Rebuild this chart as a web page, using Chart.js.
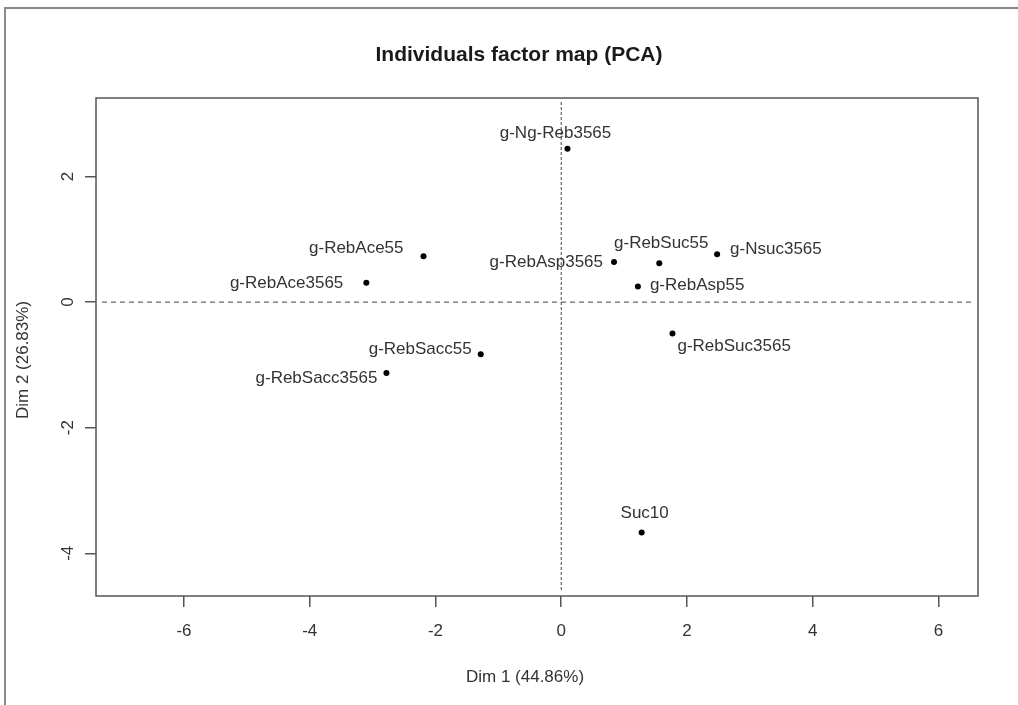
<!DOCTYPE html>
<html>
<head>
<meta charset="utf-8">
<title>Individuals factor map (PCA)</title>
<script src="https://cdn.jsdelivr.net/npm/chart.js@4"></script>
<style>
  html, body { margin: 0; padding: 0; background: #fff; }
  #wrap { width: 1018px; height: 705px; }
</style>
</head>
<body>
<div id="wrap"><canvas id="pca" width="1018" height="705"></canvas></div>
<script>
// Individuals and their coordinates on the first two principal dimensions
const individuals = ['g-Ng-Reb3565', 'g-RebAce55', 'g-RebAce3565', 'g-RebSacc55', 'g-RebSacc3565',
                     'g-RebAsp3565', 'g-RebSuc55', 'g-Nsuc3565', 'g-RebAsp55', 'g-RebSuc3565', 'Suc10'];
const dim1 = [0.10, -2.19, -3.10, -1.28, -2.78, 0.84, 1.56, 2.48, 1.22, 1.77, 1.28];
const dim2 = [2.44, 0.73, 0.31, -0.83, -1.13, 0.64, 0.62, 0.76, 0.25, -0.50, -3.67];

const xTicks = [-6, -4, -2, 0, 2, 4, 6];
const yTicks = [-4, -2, 0, 2];

const titleText = 'Individuals factor map (PCA)';
const xTitle = 'Dim 1 (44.86%)';
const yTitle = 'Dim 2 (26.83%)';

const FONT = '"Liberation Sans", Arial, Helvetica, sans-serif';

// Where each name sits relative to its point (side, gap in px, vertical shift in px)
const labelPlacement = [
  { side: 'center', dx: -12, dy: -16 },
  { side: 'left',   dx: 20,  dy: -8 },
  { side: 'left',   dx: 23,  dy: 1 },
  { side: 'left',   dx: 9,   dy: -5 },
  { side: 'left',   dx: 9,   dy: 5 },
  { side: 'left',   dx: 11,  dy: 0 },
  { side: 'center', dx: 2,   dy: -20 },
  { side: 'right',  dx: 13,  dy: -5 },
  { side: 'right',  dx: 12,  dy: -1 },
  { side: 'right',  dx: 5,   dy: 13 },
  { side: 'center', dx: 3,   dy: -19 }
];

const factorMapDecor = {
  id: 'factorMapDecor',
  beforeDraw(chart) {
    const ctx = chart.ctx;
    ctx.save();
    ctx.fillStyle = '#fff';
    ctx.fillRect(0, 0, chart.width, chart.height);
    // outer frame (top and left edges)
    ctx.strokeStyle = '#8a8a8a';
    ctx.lineWidth = 2;
    ctx.beginPath();
    ctx.moveTo(5, chart.height);
    ctx.lineTo(5, 8);
    ctx.lineTo(chart.width, 8);
    ctx.stroke();
    ctx.restore();
  },
  beforeDatasetsDraw(chart) {
    const { ctx, chartArea: a, scales: { x, y } } = chart;
    const x0 = x.getPixelForValue(0);
    const y0 = y.getPixelForValue(0);
    ctx.save();
    ctx.strokeStyle = '#444';
    ctx.lineWidth = 1;
    ctx.setLineDash([5, 4]);
    ctx.beginPath();
    ctx.moveTo(a.left + 6, y0);
    ctx.lineTo(a.right - 4, y0);
    ctx.stroke();
    ctx.setLineDash([3, 2]);
    ctx.beginPath();
    ctx.moveTo(x0, a.top + 4);
    ctx.lineTo(x0, a.bottom - 4);
    ctx.stroke();
    ctx.restore();
  },
  afterDatasetsDraw(chart) {
    const ctx = chart.ctx;
    const meta = chart.getDatasetMeta(0);
    ctx.save();
    ctx.font = '17px ' + FONT;
    ctx.fillStyle = '#333';
    ctx.textBaseline = 'middle';
    meta.data.forEach((pt, i) => {
      const p = labelPlacement[i];
      let tx = pt.x;
      if (p.side === 'left') { ctx.textAlign = 'right'; tx -= p.dx; }
      else if (p.side === 'right') { ctx.textAlign = 'left'; tx += p.dx; }
      else { ctx.textAlign = 'center'; tx += p.dx; }
      ctx.fillText(individuals[i], tx, pt.y + p.dy);
    });
    ctx.restore();
  },
  afterDraw(chart) {
    const { ctx, chartArea: a } = chart;
    ctx.save();
    // plot box
    ctx.strokeStyle = '#555';
    ctx.lineWidth = 1.5;
    ctx.strokeRect(a.left, a.top, a.right - a.left, a.bottom - a.top);
    // main title
    ctx.fillStyle = '#1a1a1a';
    ctx.textAlign = 'center';
    ctx.textBaseline = 'middle';
    ctx.font = 'bold 21px ' + FONT;
    ctx.fillText(titleText, 519, 55);
    // axis titles
    ctx.fillStyle = '#333';
    ctx.font = '17px ' + FONT;
    ctx.fillText(xTitle, 525, 677);
    ctx.translate(23, 360);
    ctx.rotate(-Math.PI / 2);
    ctx.fillText(yTitle, 0, 0);
    ctx.restore();
  }
};

new Chart(document.getElementById('pca'), {
  type: 'scatter',
  data: {
    datasets: [{
      data: dim1.map((v, i) => ({ x: v, y: dim2[i] })),
      pointRadius: 3,
      pointBackgroundColor: '#000',
      pointBorderWidth: 0
    }]
  },
  options: {
    responsive: false,
    animation: false,
    events: [],
    layout: { padding: { top: 98, right: 40, left: 0, bottom: 0 } },
    plugins: {
      legend: { display: false },
      tooltip: { enabled: false },
      title: { display: false }
    },
    scales: {
      x: {
        type: 'linear',
        min: -7.40,
        max: 6.63,
        afterBuildTicks: s => { s.ticks = xTicks.map(v => ({ value: v })); },
        afterFit: s => { s.height = 109; },
        border: { display: false },
        grid: { drawOnChartArea: false, drawTicks: true, tickLength: 11, tickColor: '#555', lineWidth: 1.5 },
        ticks: { autoSkip: false, maxRotation: 0, padding: 14, color: '#333', font: { family: FONT, size: 17 } }
      },
      y: {
        type: 'linear',
        min: -4.68,
        max: 3.25,
        afterBuildTicks: s => { s.ticks = yTicks.map(v => ({ value: v })); },
        afterFit: s => { s.width = 96; },
        border: { display: false },
        grid: { drawOnChartArea: false, drawTicks: true, tickLength: 11, tickColor: '#555', lineWidth: 1.5 },
        ticks: { autoSkip: false, minRotation: 90, maxRotation: 90, crossAlign: 'center', padding: 9,
                 color: '#333', font: { family: FONT, size: 17 } }
      }
    }
  },
  plugins: [factorMapDecor]
});
</script>
</body>
</html>
